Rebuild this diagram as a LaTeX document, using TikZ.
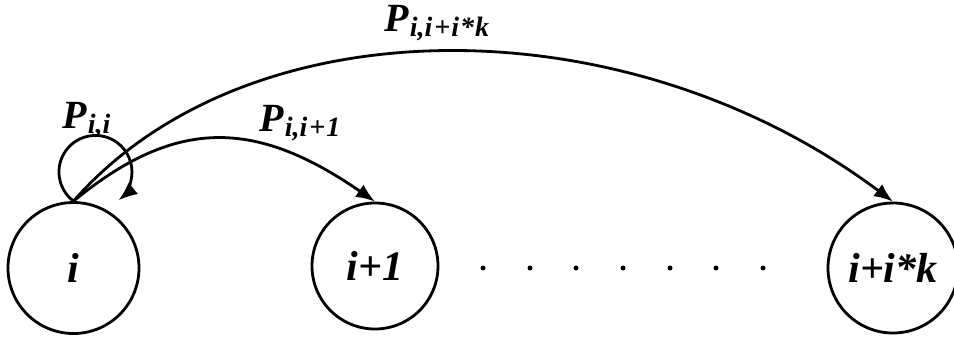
\documentclass[tikz,border=0pt]{standalone}
\usepackage{fontspec}
\setmainfont{Liberation Serif}
\usetikzlibrary{arrows.meta}
\newcommand{\plab}[1]{{\fontsize{40}{40}\selectfont\bfseries\itshape P\kern1pt\raisebox{-5pt}{\fontsize{28}{28}\selectfont #1}}}
\begin{document}
\begin{tikzpicture}[x=1pt,y=-1pt,
  line width=2.8pt,
  state/.style={draw,circle,inner sep=0pt,font=\fontsize{42}{42}\selectfont\bfseries\itshape},
  arr/.style={-{Latex[length=19pt,width=15pt]}},
  lab/.style={anchor=base west,inner sep=0pt},
  dot/.style={circle,fill,inner sep=0pt,minimum size=5pt}]
\useasboundingbox (0,0) rectangle (954,341);
\node[state,minimum size=131pt] (i) at (73.5,268) {i};
\node[state,minimum size=126pt] (i1) at (375,266) {i+1};
\node[state,minimum size=130pt] (ik) at (893,268) {i+i*k};
\foreach \x [count=\n] in {483,530,576,623,670,716,763}
  \node[dot] (d\n) at (\x,268) {};
% self loop
\draw[arr] (i.north) arc[start angle=233, end angle=-51, radius=36.5pt] coordinate (loopend);
% arcs
\draw[arr] (i.north) .. controls (175,118) and (254,118) .. (i1.north);
\draw[arr] (i.north) .. controls (248,2) and (626,2) .. (ik.north);
% labels
\node[lab] (lii) at (61,128) {\plab{i,i}};
\node[lab] (lii1) at (258,131) {\plab{i,i\kern2pt+\kern1pt1}};
\node[lab] (liik) at (383,31) {\plab{i,i\kern2pt+\kern1pt i\kern1pt*\kern1pt k}};
\end{tikzpicture}
\end{document}
